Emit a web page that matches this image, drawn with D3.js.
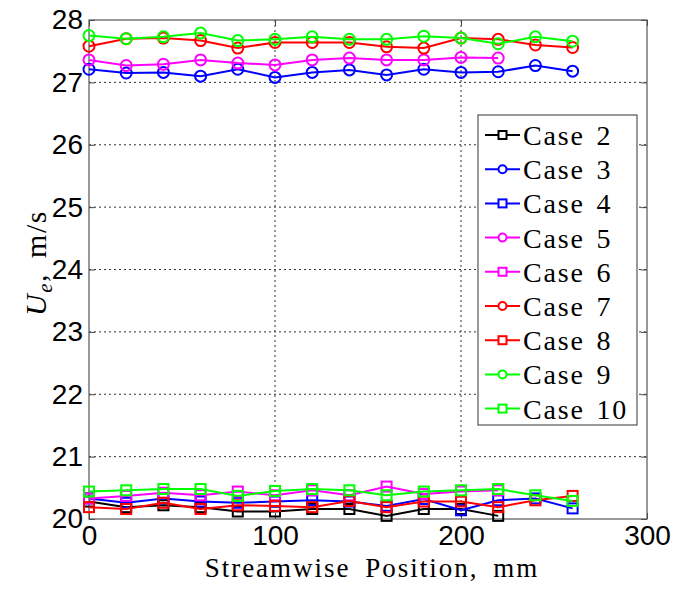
<!DOCTYPE html>
<html>
<head>
<meta charset="utf-8">
<script src="https://cdn.jsdelivr.net/npm/d3@7"></script>
<style>
  html, body { margin: 0; padding: 0; background: #fff; }
  svg { display: block; }
</style>
</head>
<body>
<svg id="chart" width="678" height="590"></svg>
<script>
// Streamwise stations (mm)
const positions = [0, 20, 40, 60, 80, 100, 120, 140, 160, 180, 200, 220, 240, 260];

// Edge velocity U_e (m/s) per case
const case2  = [20.28, 20.19, 20.22, 20.19, 20.12, 20.12, 20.16, 20.16, 20.05, 20.16, 20.16, 20.05];
const case3  = [27.21, 27.15, 27.16, 27.10, 27.21, 27.08, 27.16, 27.20, 27.12, 27.21, 27.16, 27.17, 27.27, 27.18];
const case4  = [20.33, 20.26, 20.33, 20.28, 20.26, 20.28, 20.30, 20.28, 20.21, 20.32, 20.14, 20.30, 20.33, 20.17];
const case5  = [27.36, 27.27, 27.29, 27.36, 27.31, 27.28, 27.36, 27.39, 27.36, 27.36, 27.40, 27.39];
const case6  = [20.33, 20.37, 20.42, 20.38, 20.44, 20.38, 20.46, 20.38, 20.52, 20.40, 20.44, 20.46];
const case7  = [27.58, 27.70, 27.71, 27.67, 27.55, 27.64, 27.64, 27.64, 27.57, 27.55, 27.71, 27.69, 27.60, 27.56];
const case8  = [20.19, 20.16, 20.26, 20.16, 20.22, 20.21, 20.19, 20.29, 20.19, 20.28, 20.28, 20.19, 20.30, 20.37];
const case9  = [27.75, 27.70, 27.73, 27.79, 27.67, 27.69, 27.73, 27.69, 27.69, 27.74, 27.71, 27.62, 27.73, 27.66];
const case10 = [20.44, 20.46, 20.48, 20.48, 20.37, 20.45, 20.48, 20.46, 20.38, 20.44, 20.46, 20.48, 20.38, 20.29];

const caseNames = ["Case 2", "Case 3", "Case 4", "Case 5", "Case 6", "Case 7", "Case 8", "Case 9", "Case 10"];
const caseValues = [case2, case3, case4, case5, case6, case7, case8, case9, case10];
const caseColors = ["#000000", "#0000ff", "#0000ff", "#ff00ff", "#ff00ff", "#ff0000", "#ff0000", "#00ff00", "#00ff00"];
const caseMarkers = ["square", "circle", "square", "circle", "square", "circle", "square", "circle", "square"];

const xTicks = [0, 100, 200, 300];
const yTicks = [20, 21, 22, 23, 24, 25, 26, 27, 28];

const svg = d3.select("#chart");
const plot = { left: 89, right: 647, top: 20, bottom: 519 };

const x = d3.scaleLinear().domain([0, 300]).range([plot.left, plot.right]);
const y = d3.scaleLinear().domain([20, 28]).range([plot.bottom, plot.top]);

const tickFont = "'Liberation Sans', Arial, Helvetica, sans-serif";
const serifFont = "'Liberation Serif', 'Times New Roman', serif";

// Dotted grid
const grid = svg.append("g");
grid.selectAll("line.gy").data(yTicks.filter(d => d > 20 && d < 28)).join("line")
  .attr("x1", plot.left).attr("x2", plot.right)
  .attr("y1", d => y(d)).attr("y2", d => y(d))
  .attr("stroke", "#333").attr("stroke-width", 1).attr("stroke-dasharray", "2,3");
grid.selectAll("line.gx").data(xTicks.filter(d => d > 0 && d < 300)).join("line")
  .attr("x1", d => x(d)).attr("x2", d => x(d))
  .attr("y1", plot.top).attr("y2", plot.bottom)
  .attr("stroke", "#333").attr("stroke-width", 1).attr("stroke-dasharray", "2,3");

// Axes with inward ticks
const yAxis = d3.axisLeft(y).tickValues(yTicks).tickSize(-6).tickPadding(6).tickFormat(d3.format("d"));
const xAxis = d3.axisBottom(x).tickValues(xTicks).tickSize(-6).tickPadding(6).tickFormat(d3.format("d"));
const yAxisRight = d3.axisRight(y).tickValues(yTicks).tickSize(-6).tickFormat("");
const xAxisTop = d3.axisTop(x).tickValues(xTicks).tickSize(-6).tickFormat("");

function styleAxis(g) {
  g.select(".domain").remove();
  g.selectAll(".tick line").attr("stroke", "#444");
  g.selectAll("text").attr("font-family", tickFont).attr("font-size", 28).attr("fill", "#000");
}
svg.append("g").attr("transform", `translate(${plot.left},0)`).call(yAxis).call(styleAxis);
svg.append("g").attr("transform", `translate(0,${plot.bottom})`).call(xAxis).call(styleAxis);
svg.append("g").attr("transform", `translate(${plot.right},0)`).call(yAxisRight).call(styleAxis);
svg.append("g").attr("transform", `translate(0,${plot.top})`).call(xAxisTop).call(styleAxis);

// Frame
svg.append("rect")
  .attr("x", plot.left).attr("y", plot.top)
  .attr("width", plot.right - plot.left).attr("height", plot.bottom - plot.top)
  .attr("fill", "none").attr("stroke", "#555").attr("stroke-width", 1.2);

// Marker drawing helper
function drawMarker(g, type, cx, cy, color) {
  if (type === "circle") {
    g.append("circle").attr("cx", cx).attr("cy", cy).attr("r", 5.5)
      .attr("fill", "none").attr("stroke", color).attr("stroke-width", 2);
  } else {
    g.append("rect").attr("x", cx - 5).attr("y", cy - 5).attr("width", 10).attr("height", 10)
      .attr("fill", "none").attr("stroke", color).attr("stroke-width", 2);
  }
}

// Series
const line = d3.line().x(d => x(d[0])).y(d => y(d[1]));
const series = svg.append("g");
caseValues.forEach((vals, i) => {
  const pts = vals.map((v, j) => [positions[j], v]);
  const g = series.append("g");
  g.append("path").datum(pts).attr("d", line)
    .attr("fill", "none").attr("stroke", caseColors[i]).attr("stroke-width", 2);
  pts.forEach(p => drawMarker(g, caseMarkers[i], x(p[0]), y(p[1]), caseColors[i]));
});

// Legend
const legend = svg.append("g");
legend.append("rect").attr("x", 478).attr("y", 115).attr("width", 159).attr("height", 310)
  .attr("fill", "#fff").attr("stroke", "#555").attr("stroke-width", 1.2);
caseNames.forEach((name, i) => {
  const ly = 135 + i * 34.2;
  const g = legend.append("g");
  g.append("line").attr("x1", 485).attr("x2", 520).attr("y1", ly).attr("y2", ly)
    .attr("stroke", caseColors[i]).attr("stroke-width", 2);
  if (caseMarkers[i] === "circle") {
    g.append("circle").attr("cx", 502.5).attr("cy", ly).attr("r", 4)
      .attr("fill", "#fff").attr("stroke", caseColors[i]).attr("stroke-width", 2);
  } else {
    g.append("rect").attr("x", 498.5).attr("y", ly - 4).attr("width", 8).attr("height", 8)
      .attr("fill", "#fff").attr("stroke", caseColors[i]).attr("stroke-width", 2);
  }
  g.append("text").attr("x", 523).attr("y", ly + 10).text(name)
    .attr("font-family", serifFont).attr("font-size", 28)
    .attr("letter-spacing", 1.8).attr("word-spacing", 3).attr("fill", "#000");
});

// Axis titles
svg.append("text").attr("x", 372).attr("y", 577).attr("text-anchor", "middle")
  .attr("font-family", serifFont).attr("font-size", 27)
  .attr("letter-spacing", 2).attr("word-spacing", 6).attr("fill", "#000")
  .text("Streamwise Position, mm");

const ylab = svg.append("text").attr("transform", "translate(46,263) rotate(-90)")
  .attr("text-anchor", "middle").attr("font-family", serifFont).attr("font-size", 30)
  .attr("letter-spacing", 1.5).attr("fill", "#000");
ylab.append("tspan").attr("font-style", "italic").text("U");
ylab.append("tspan").attr("font-style", "italic").attr("font-size", 21).attr("dy", 6).text("e");
ylab.append("tspan").attr("dy", -6).attr("word-spacing", 6).text(", m/s");
</script>
</body>
</html>
